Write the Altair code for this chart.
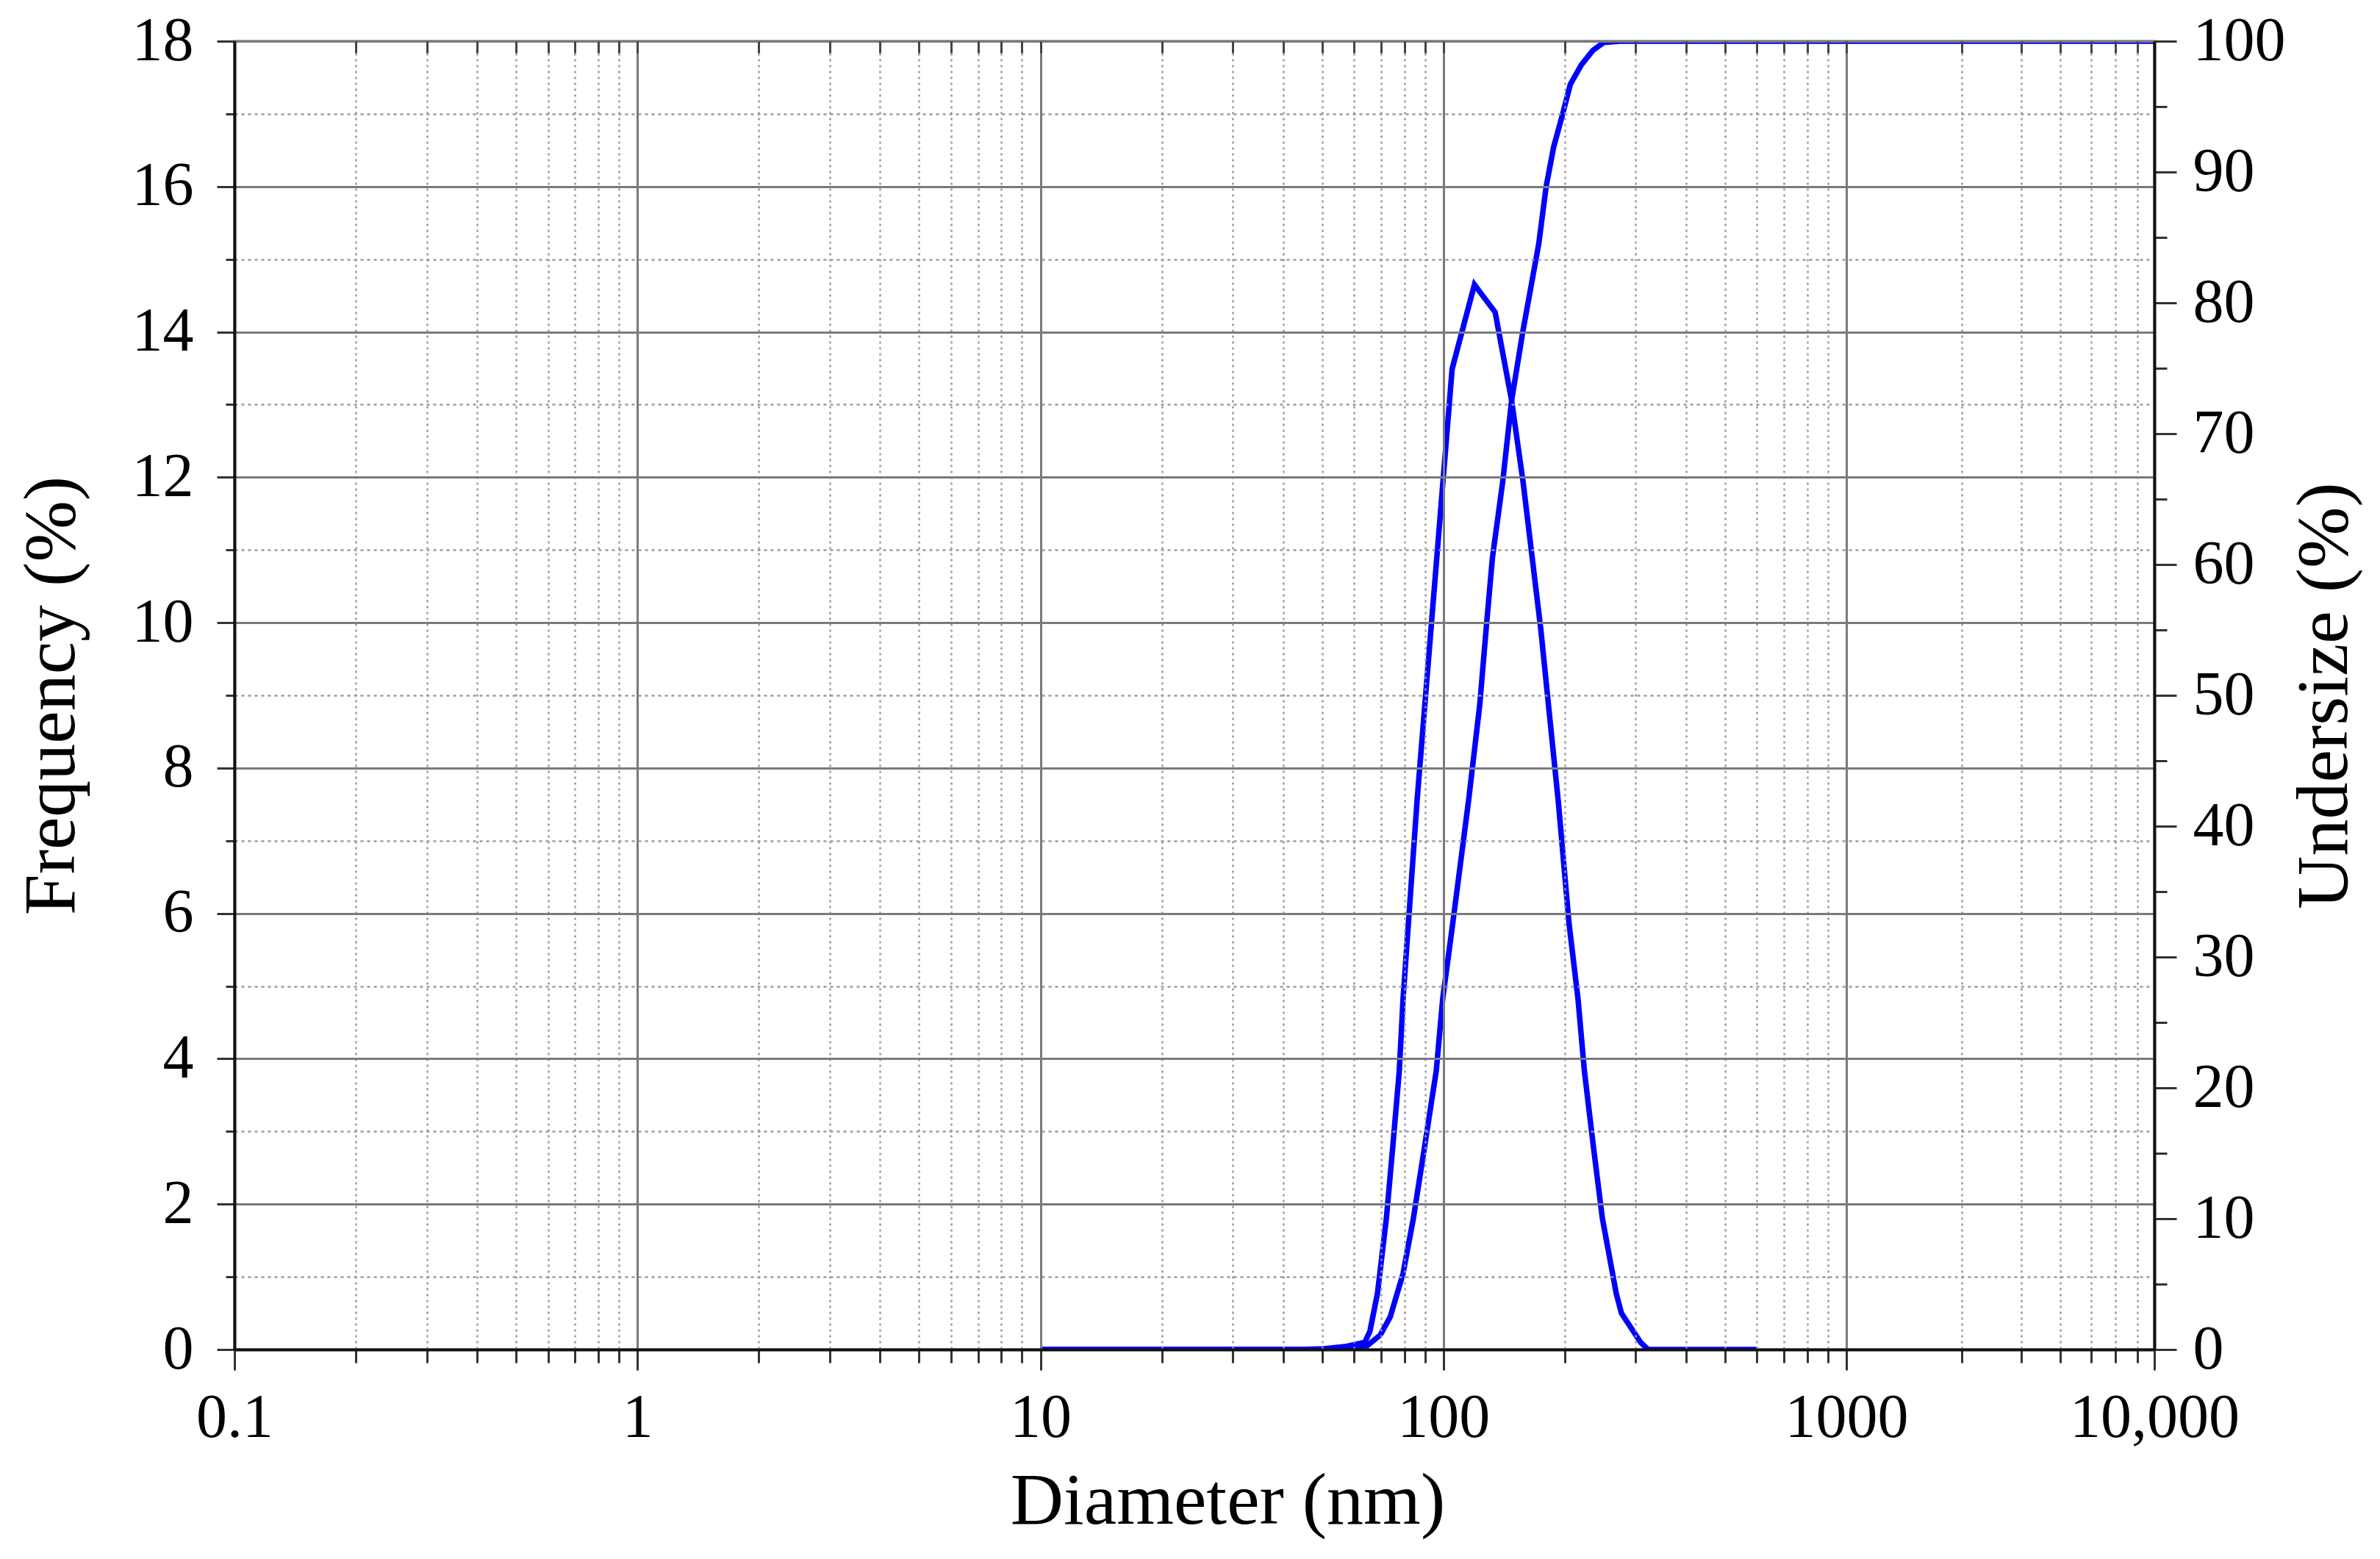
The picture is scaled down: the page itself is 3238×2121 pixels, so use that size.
import altair as alt
import pandas as pd

# ---- data ----
freq_d = [10, 45, 50.5, 57, 63.8, 65.7, 68.6, 72.2, 74.9, 77.7, 79.4, 86.1, 105.1,
          119.4, 134.4, 147.6, 157.7, 174.6, 182.4, 192.7, 205.0, 215.8, 223.8,
          235.5, 247.9, 268.5, 276.5, 308.4, 322, 600]
freq_v = [0, 0, 0.01, 0.04, 0.10, 0.25, 0.77, 1.81, 2.80, 3.83, 4.82, 7.58, 13.49,
          14.65, 14.27, 13.06, 11.93, 9.89, 8.85, 7.55, 5.86, 4.82, 3.83,
          2.80, 1.81, 0.77, 0.50, 0.10, 0, 0]

und_d = [10, 50, 56, 60, 64.7, 69.7, 73.8, 79.4, 84.2, 89.9, 96.0, 99.6, 105.5,
         115.5, 123.0, 127.6, 132.3, 140.3, 147.6, 157.2, 165.3, 172.4, 179.9,
         187.7, 197.9, 206.5, 220, 235, 250, 275, 5810]
und_u = [0, 0, 0.05, 0.12, 0.3, 1.1, 2.5, 5.8, 10.0, 15.6, 21.3, 26.8, 32.6,
         42.0, 49.2, 55.0, 60.5, 66.3, 72.5, 77.7, 81.4, 84.5, 88.9,
         91.9, 94.5, 96.7, 98.2, 99.3, 99.9, 100, 100]

# axis ticks
x_major = [0.1, 1, 10, 100, 1000]
x_end = 5810  # right end of the drawn axis, labelled "10,000"
x_minor = [round(k * m, 4) for m in (0.1, 1, 10, 100) for k in range(2, 10)] + \
          [1930, 2720, 3390, 4050, 4660, 5280]
x_ticks = sorted(x_major + x_minor + [x_end])
y_left_ticks = list(range(0, 19))
y_right_ticks = list(range(0, 101, 5))

FONT = "Liberation Serif"
LBL = 84
TTL = 100
W, H = 2612, 1780

XMAJ = "indexof([" + ",".join(str(v) for v in x_major + [x_end]) + "], datum.value) >= 0"
YMAJ = "datum.value % 2 == 0"
RMAJ = "datum.value % 10 == 0"

common = dict(labelFont=FONT, labelFontSize=LBL, labelColor="black", labelLimit=500,
              titleFont=FONT, titleFontSize=TTL, titleFontWeight="normal",
              titleColor="black", labelOverlap=False, labelFlush=False,
              tickColor="#333333", tickWidth=3, domainColor="#111111",
              domainWidth=4, zindex=1)

x_axis_bottom = alt.Axis(
    values=x_ticks, title="Diameter (nm)", orient="bottom",
    labelExpr=f"datum.value == {x_end} ? '10,000' : ({XMAJ} ? format(datum.value, '~g') : '')",
    grid=True,
    gridColor={"condition": {"test": XMAJ, "value": "#7a7a7a"}, "value": "#9a9a9a"},
    gridDash={"condition": {"test": XMAJ, "value": []}, "value": [3, 5]},
    gridWidth={"condition": {"test": XMAJ, "value": 3}, "value": 2.5},
    tickSize={"condition": {"test": XMAJ, "value": 28}, "value": 18},
    labelPadding=24, titlePadding=22, titleX=W / 2 + 45, **common)

x_axis_top = alt.Axis(values=x_ticks, orient="top", labels=False, title=None,
                      domain=False, grid=False, ticks=True, tickSize=16, offset=-16,
                      tickColor="#444444", tickWidth=3, zindex=1)

y_left = alt.Axis(
    values=y_left_ticks, title="Frequency (%)", orient="left",
    labelExpr=f"{YMAJ} ? datum.label : ''",
    grid=True,
    gridColor={"condition": {"test": YMAJ, "value": "#7a7a7a"}, "value": "#9a9a9a"},
    gridDash={"condition": {"test": YMAJ, "value": []}, "value": [4, 5]},
    gridWidth={"condition": {"test": YMAJ, "value": 3}, "value": 2.5},
    tickSize={"condition": {"test": YMAJ, "value": 24}, "value": 12},
    labelPadding=32, titlePadding=58, **common)

y_right = alt.Axis(
    values=y_right_ticks, title="Undersize (%)", orient="right",
    labelExpr=f"{RMAJ} ? datum.label : ''",
    grid=False,
    tickSize={"condition": {"test": RMAJ, "value": 30}, "value": 17},
    titleAngle=270, titleBaseline="top",
    labelPadding=22, titlePadding=4, **common)

xscale = alt.Scale(type="log", domain=[0.1, x_end], nice=False)

freq = alt.Chart(pd.DataFrame({"d": freq_d, "v": freq_v})).mark_line(
    color="#0000ff", strokeWidth=7.5, clip=True).encode(
    x=alt.X("d:Q", scale=xscale, axis=x_axis_bottom),
    y=alt.Y("v:Q", scale=alt.Scale(domain=[0, 18], nice=False, zero=False), axis=y_left),
)

und = alt.Chart(pd.DataFrame({"d": und_d, "u": und_u})).mark_line(
    color="#0000ff", strokeWidth=7.5, clip=True).encode(
    x=alt.X("d:Q", scale=xscale, axis=x_axis_top),
    y=alt.Y("u:Q", scale=alt.Scale(domain=[0, 100], nice=False, zero=False), axis=y_right),
)

chart = alt.layer(freq, und).resolve_scale(y="independent").resolve_axis(
    x="independent", y="independent"
).properties(
    width=W, height=H,
    padding={"left": 12, "top": 6, "right": 4, "bottom": 8},
    background="white",
).configure_view(stroke="#555555", strokeWidth=3)

chart.save("out.html", embed_options={"renderer": "svg", "actions": False})
